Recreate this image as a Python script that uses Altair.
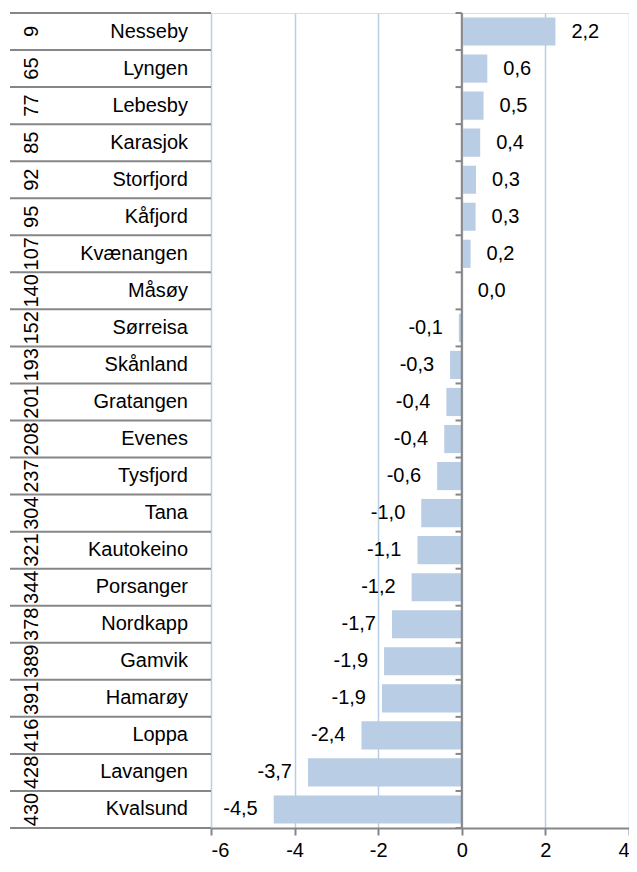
import altair as alt
import pandas as pd

ranks = [9, 65, 77, 85, 92, 95, 107, 140, 152, 193, 201, 208, 237, 304, 321, 344, 378, 389, 391, 416, 428, 430]
names = ["Nesseby", "Lyngen", "Lebesby", "Karasjok", "Storfjord", "Kåfjord", "Kvænangen", "Måsøy",
         "Sørreisa", "Skånland", "Gratangen", "Evenes", "Tysfjord", "Tana", "Kautokeino", "Porsanger",
         "Nordkapp", "Gamvik", "Hamarøy", "Loppa", "Lavangen", "Kvalsund"]
values = [2.24, 0.61, 0.52, 0.44, 0.34, 0.33, 0.21, 0.0, -0.07, -0.28, -0.37, -0.42, -0.59, -0.97,
          -1.06, -1.2, -1.67, -1.86, -1.91, -2.4, -3.68, -4.5]
x_ticks = [-6, -4, -2, 0, 2, 4]

FONT = "Liberation Sans"
FS = 20
BAR = "#b9cde5"
GREY = "#868686"

df = pd.DataFrame({
    "rank": [str(r) for r in ranks],
    "name": names,
    "value": values,
    "row": list(range(len(names))),
})
df["label"] = [f"{v:.1f}".replace(".", ",") for v in values]
bounds = pd.DataFrame({"b": list(range(len(names) + 1))})
zero = pd.DataFrame({"z": [0], "top": [0], "bot": [len(names)]})

xs = alt.Scale(domain=[x_ticks[0], x_ticks[-1]], nice=False, zero=False)
ys = alt.Scale(domain=[0, len(names)], reverse=True, nice=False, zero=False)

base = alt.Chart(df).transform_calculate(
    y0="datum.row + 0.12", y1="datum.row + 0.88", mid="datum.row + 0.5"
)

bars = base.mark_bar(color=BAR).encode(
    x=alt.X("value:Q", scale=xs, title=None,
            axis=alt.Axis(values=x_ticks, grid=True, gridColor=BAR, gridWidth=1.5,
                          domainColor=GREY, domainWidth=2, tickColor=GREY, tickWidth=2,
                          tickSize=7, labelFont=FONT, labelFontSize=FS, labelColor="black",
                          labelPadding=5, labelExpr="datum.value + ''")),
    x2=alt.datum(0),
    y=alt.Y("y0:Q", scale=ys, axis=None),
    y2="y1:Q",
)

zline = alt.Chart(zero).mark_rule(color=GREY, strokeWidth=2).encode(
    x=alt.X("z:Q"), y=alt.Y("top:Q"), y2="bot:Q"
)

ticks = alt.Chart(bounds).transform_calculate(a="0", c="-0.15").mark_rule(
    color=GREY, strokeWidth=2
).encode(x=alt.X("a:Q"), x2="c:Q", y=alt.Y("b:Q"))

rowlines = alt.Chart(bounds).mark_rule(color=GREY, strokeWidth=2).encode(
    x=alt.value(-201), x2=alt.value(0), y=alt.Y("b:Q")
)

name_txt = base.mark_text(align="right", baseline="middle", font=FONT, fontSize=FS, color="black").encode(
    x=alt.value(-23), y=alt.Y("mid:Q"), text="name:N"
)
rank_txt = base.mark_text(align="center", baseline="middle", angle=270, font=FONT, fontSize=FS,
                          color="black").encode(
    x=alt.value(-179), y=alt.Y("mid:Q"), text="rank:N"
)
pos_lbl = base.transform_filter("datum.value >= 0").mark_text(
    align="left", baseline="middle", dx=16, font=FONT, fontSize=FS, color="black"
).encode(x="value:Q", y=alt.Y("mid:Q"), text="label:N")
neg_lbl = base.transform_filter("datum.value < 0").mark_text(
    align="right", baseline="middle", dx=-16, font=FONT, fontSize=FS, color="black"
).encode(x="value:Q", y=alt.Y("mid:Q"), text="label:N")

chart = alt.layer(bars, zline, ticks, rowlines, name_txt, rank_txt, pos_lbl, neg_lbl).properties(
    width=418, height=815,
    autosize=alt.AutoSizeParams(type="none"),
    padding={"left": 203, "top": 5, "right": 0, "bottom": 36},
).configure_view(stroke=None).configure(background="white")

chart.save("out.html", embed_options={"renderer": "svg", "actions": False})
